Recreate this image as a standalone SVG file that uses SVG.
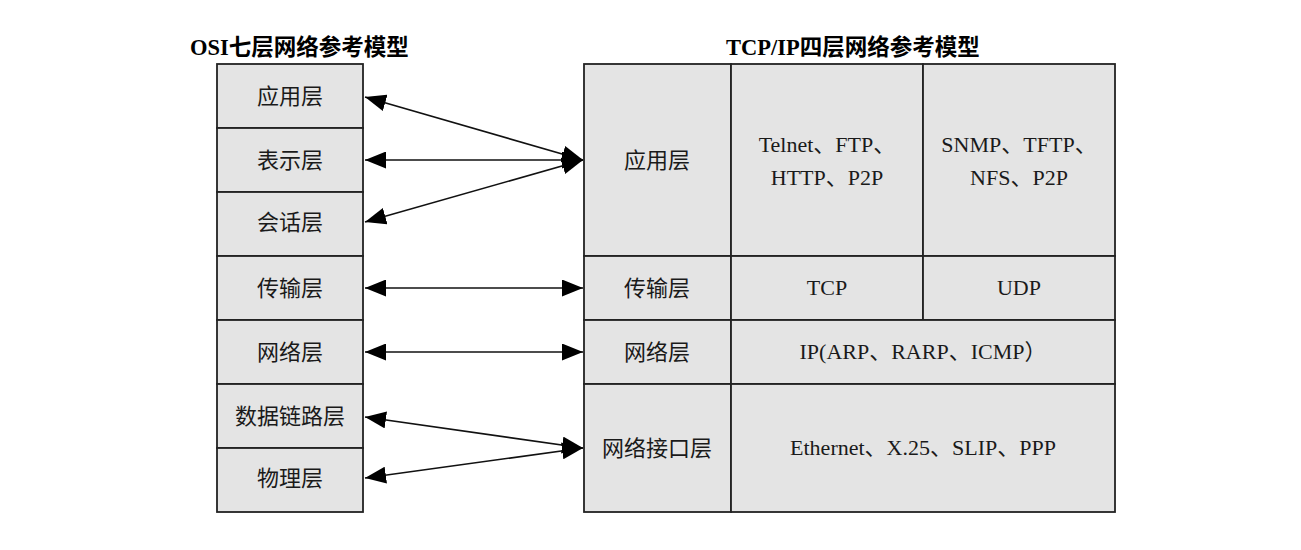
<svg xmlns="http://www.w3.org/2000/svg" width="1301" height="550" viewBox="0 0 1301 550">
<style>
.cell{fill:#e4e4e4;stroke:#222;stroke-width:1.8}
.t{font-family:"Liberation Serif","Noto Sans CJK SC",serif;font-size:22px;fill:#1a1a1a;text-anchor:middle}
.title{font-family:"Liberation Serif","Noto Sans CJK SC",serif;font-size:22.5px;font-weight:bold;fill:#000}
.conn{stroke:#111;stroke-width:1.6;fill:none;marker-start:url(#ah);marker-end:url(#ah)}
</style>
<defs>
<marker id="ah" markerUnits="userSpaceOnUse" markerWidth="21" markerHeight="17" viewBox="0 0 21 17" refX="21" refY="8.5" orient="auto-start-reverse">
<path d="M0,0 L21,8.5 L0,17 z" fill="#000"/>
</marker>
</defs>
<rect width="1301" height="550" fill="#fff"/>
<text class="title" x="190" y="55">OSI七层网络参考模型</text>
<text class="title" x="853" y="55" text-anchor="middle">TCP/IP四层网络参考模型</text>

<g id="osi-app"><rect class="cell" x="217" y="64" width="146" height="64"/><text class="t" x="290" y="104">应用层</text></g>
<g id="osi-pres"><rect class="cell" x="217" y="128" width="146" height="64"/><text class="t" x="290" y="168">表示层</text></g>
<g id="osi-sess"><rect class="cell" x="217" y="192" width="146" height="64"/><text class="t" x="290" y="230">会话层</text></g>
<g id="osi-trans"><rect class="cell" x="217" y="256" width="146" height="64"/><text class="t" x="290" y="296">传输层</text></g>
<g id="osi-net"><rect class="cell" x="217" y="320" width="146" height="64"/><text class="t" x="290" y="360">网络层</text></g>
<g id="osi-dl"><rect class="cell" x="217" y="384" width="146" height="64"/><text class="t" x="290" y="424">数据链路层</text></g>
<g id="osi-phy"><rect class="cell" x="217" y="448" width="146" height="64"/><text class="t" x="290" y="486">物理层</text></g>

<g id="tcp-app"><rect class="cell" x="584" y="64" width="147" height="192"/><text class="t" x="657" y="168">应用层</text></g>
<g id="tcp-app1"><rect class="cell" x="731" y="64" width="192" height="192"/><text class="t" x="827" y="152">Telnet、FTP、</text><text class="t" x="827" y="185"> HTTP、P2P</text></g>
<g id="tcp-app2"><rect class="cell" x="923" y="64" width="192" height="192"/><text class="t" x="1019" y="152">SNMP、TFTP、</text><text class="t" x="1019" y="185"> NFS、P2P</text></g>
<g id="tcp-trans"><rect class="cell" x="584" y="256" width="147" height="64"/><text class="t" x="657" y="296">传输层</text></g>
<g id="tcp-tcp"><rect class="cell" x="731" y="256" width="192" height="64"/><text class="t" x="827" y="295">TCP</text></g>
<g id="tcp-udp"><rect class="cell" x="923" y="256" width="192" height="64"/><text class="t" x="1019" y="295">UDP</text></g>
<g id="tcp-net"><rect class="cell" x="584" y="320" width="147" height="64"/><text class="t" x="657" y="360">网络层</text></g>
<g id="tcp-ip"><rect class="cell" x="731" y="320" width="384" height="64"/><text class="t" x="923" y="359">IP(ARP、RARP、ICMP）</text></g>
<g id="tcp-link"><rect class="cell" x="584" y="384" width="147" height="128"/><text class="t" x="657" y="456">网络接口层</text></g>
<g id="tcp-eth"><rect class="cell" x="731" y="384" width="384" height="128"/><text class="t" x="923" y="455">Ethernet、X.25、SLIP、PPP</text></g>

<g id="connectors">
<line class="conn" x1="365" y1="97" x2="583" y2="160"/>
<line class="conn" x1="365" y1="160" x2="583" y2="160"/>
<line class="conn" x1="365" y1="222" x2="583" y2="160"/>
<line class="conn" x1="365" y1="288" x2="583" y2="288"/>
<line class="conn" x1="365" y1="352" x2="583" y2="352"/>
<line class="conn" x1="365" y1="417" x2="583" y2="448"/>
<line class="conn" x1="365" y1="478" x2="583" y2="448"/>
</g>
</svg>
